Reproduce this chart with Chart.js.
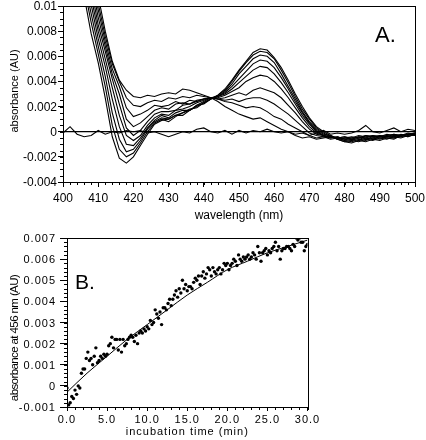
<!DOCTYPE html>
<html>
<head>
<meta charset="utf-8">
<script src="https://cdn.jsdelivr.net/npm/chart.js@4/dist/chart.umd.min.js"></script>
<style>
  html, body { margin: 0; padding: 0; background: #fff; }
  canvas, .overlay { position: absolute; left: 0; }
  .overlay { width: 426px; pointer-events: none; color: #000; }
  #chartA, #textA { top: 0; height: 230px; }
  #chartB, #textB { top: 230px; height: 210px; }
</style>
</head>
<body>
<canvas id="chartA" width="426" height="230"></canvas>
<canvas id="chartB" width="426" height="210"></canvas>
<div class="overlay" id="textA"></div>
<div class="overlay" id="textB"></div>
<script>
// ---- panel A: difference spectra ----
const wavelengths = [400, 402, 404, 406, 408, 410, 412, 414, 416, 418, 420, 422, 424, 426, 428, 430, 432, 434, 436, 438,
  440, 442, 444, 446, 448, 450, 452, 454, 456, 458, 460, 462, 464, 466, 468, 470, 472, 474, 476, 478,
  480, 482, 484, 486, 488, 490, 492, 494, 496, 498, 500];

const spec0 = [-.0001, .0004, -.0002, -.0004, -.0003, .0001, -.0002, .0000, -.0001, .0001, .0000, .0001, -.0001, .0000, -.0002, -.0004, -.0002, .0000, -.0001, .0002,
  .0003, .0000, -.0001, .0001, -.0002, .0001, -.0001, .0001, .0000, .0002, .0000, -.0001, .0000, -.0002, -.0001, -.0003, -.0001, .0001, -.0002, -.0001,
  -.0002, -.0001, .0001, .0005, .0000, -.0001, .0001, .0003, .0000, .0002, .0001];
const spec1 = [.036, .027, .022, .018, .014, .0108, .0080, .0056, .0041, .0033, .0028, .0027, .0029, .0028, .0030, .0031, .0030, .0034, .0033, .0031,
  .0029, .0027, .0024, .0020, .0017, .0014, .0012, .0010, .0011, .0008, .0005, .0002, .0000, -.0003, -.0005, -.0004, -.0006, -.0005, -.0004, -.0006,
  -.0005, -.0004, -.0005, -.0003, -.0004, -.0003, -.0004, -.0002, -.0003, -.0002, -.0001];
const spec2 = [.035, .026, .021, .017, .0133, .0102, .0076, .0054, .0040, .0027, .0021, .0020, .0023, .0025, .0024, .0027, .0026, .0028, .0027, .0029,
  .0028, .0027, .0026, .0024, .0023, .0021, .0019, .0020, .0019, .0016, .0012, .0010, .0006, .0003, .0000, -.0003, -.0005, -.0004, -.0006, -.0005,
  -.0004, -.0006, -.0004, -.0005, -.0003, -.0004, -.0003, -.0002, -.0003, -.0002, -.0001];
const spec3 = [.034, .025, .020, .016, .0127, .0097, .0072, .0050, .0036, .0019, .0012, .0014, .0017, .0021, .0020, .0021, .0024, .0022, .0025, .0024,
  .0026, .0027, .0026, .0025, .0026, .0024, .0026, .0027, .0027, .0025, .0022, .0018, .0014, .0009, .0004, -.0001, -.0003, -.0004, -.0003, -.0005,
  -.0004, -.0005, -.0003, -.0004, -.0003, -.0004, -.0002, -.0003, -.0003, -.0001, -.0002];
const spec4 = [.032, .024, .019, .015, .0120, .0091, .0068, .0046, .0030, .0010, .0004, .0007, .0012, .0017, .0019, .0018, .0022, .0023, .0022, .0025,
  .0026, .0027, .0026, .0027, .0029, .0031, .0029, .0033, .0035, .0033, .0031, .0027, .0021, .0015, .0008, .0002, -.0002, -.0003, -.0005, -.0004,
  -.0006, -.0005, -.0005, -.0003, -.0004, -.0004, -.0003, -.0004, -.0003, -.0002, -.0002];
const spec5 = [.031, .023, .0185, .0145, .0114, .0085, .0064, .0042, .0022, .0003, -.0003, .0001, .0008, .0014, .0016, .0016, .0017, .0021, .0022, .0024,
  .0026, .0027, .0027, .0029, .0032, .0035, .0040, .0043, .0045, .0044, .0040, .0034, .0027, .0019, .0011, .0004, -.0001, -.0003, -.0004, -.0006,
  -.0005, -.0006, -.0004, -.0005, -.0005, -.0003, -.0004, -.0004, -.0002, -.0003, -.0001];
const spec6 = [.030, .022, .0175, .014, .0107, .0080, .0058, .0035, .0013, -.0003, -.0007, -.0003, .0005, .0011, .0014, .0013, .0017, .0018, .0020, .0023,
  .0025, .0027, .0028, .0030, .0034, .0039, .0044, .0049, .0052, .0051, .0046, .0039, .0031, .0022, .0013, .0006, .0000, -.0003, -.0005, -.0004,
  -.0006, -.0007, -.0005, -.0006, -.0004, -.0005, -.0004, -.0003, -.0004, -.0002, -.0003];
const spec7 = [.028, .021, .017, .013, .0101, .0074, .0052, .0026, .0004, -.0010, -.0011, -.0005, .0003, .0009, .0013, .0011, .0015, .0017, .0017, .0021,
  .0024, .0027, .0028, .0031, .0036, .0042, .0048, .0054, .0057, .0056, .0051, .0043, .0034, .0024, .0015, .0007, .0001, -.0003, -.0004, -.0005,
  -.0007, -.0006, -.0007, -.0005, -.0006, -.0004, -.0005, -.0005, -.0003, -.0004, -.0002];
const spec8 = [.027, .0205, .016, .012, .0094, .0068, .0044, .0015, -.0006, -.0016, -.0014, -.0007, .0002, .0008, .0011, .0010, .0013, .0013, .0017, .0020,
  .0023, .0026, .0028, .0032, .0038, .0046, .0052, .0058, .0061, .0060, .0055, .0046, .0036, .0026, .0016, .0008, .0002, -.0002, -.0003, -.0006,
  -.0008, -.0007, -.0008, -.0006, -.0007, -.0005, -.0006, -.0004, -.0005, -.0003, -.0002];
const spec9 = [.026, .0195, .0152, .0115, .0087, .0062, .0036, .0005, -.0014, -.0020, -.0017, -.0009, .0000, .0007, .0010, .0008, .0012, .0015, .0017, .0021,
  .0022, .0026, .0029, .0033, .0040, .0048, .0055, .0061, .0064, .0063, .0058, .0049, .0039, .0028, .0018, .0010, .0003, -.0001, -.0004, -.0005,
  -.0007, -.0008, -.0006, -.0007, -.0005, -.0006, -.0004, -.0005, -.0004, -.0002, -.0003];
const spec10 = [.024, .018, .0145, .0108, .0078, .0055, .0027, -.0004, -.0021, -.0025, -.0020, -.0011, -.0002, .0006, .0009, .0010, .0013, .0015, .0018, .0019,
  .0023, .0026, .0029, .0034, .0041, .0049, .0056, .0063, .0066, .0065, .0059, .0051, .0041, .0030, .0020, .0011, .0004, .0000, -.0003, -.0006,
  -.0008, -.0009, -.0007, -.0008, -.0006, -.0007, -.0005, -.0006, -.0003, -.0004, -.0002];

const zeroLineX = [400, 500];
const zeroLineY = [0, 0];

const aXTicks = [400, 410, 420, 430, 440, 450, 460, 470, 480, 490, 500];
const aYTicks = [-0.004, -0.002, 0, 0.002, 0.004, 0.006, 0.008, 0.01];

// ---- panel B: absorbance at 456 nm vs time ----
const times = [0, .2, .4, .6, .8, 1, 1.2, 1.4, 1.6, 1.8,
  2, 2.2, 2.4, 2.6, 2.8, 3, 3.2, 3.4, 3.6, 3.8,
  4, 4.2, 4.4, 4.6, 4.8, 5, 5.2, 5.4, 5.6, 5.8,
  6, 6.2, 6.4, 6.6, 6.8, 7, 7.2, 7.4, 7.6, 7.8,
  8, 8.2, 8.4, 8.6, 8.8, 9, 9.2, 9.4, 9.6, 9.8,
  10, 10.2, 10.4, 10.6, 10.8, 11, 11.2, 11.4, 11.6, 11.8,
  12, 12.2, 12.4, 12.6, 12.8, 13, 13.2, 13.4, 13.6, 13.8,
  14, 14.2, 14.4, 14.6, 14.8, 15, 15.2, 15.4, 15.6, 15.8,
  16, 16.2, 16.4, 16.6, 16.8, 17, 17.2, 17.4, 17.6, 17.8,
  18, 18.2, 18.4, 18.6, 18.8, 19, 19.2, 19.4, 19.6, 19.8,
  20, 20.2, 20.4, 20.6, 20.8, 21, 21.2, 21.4, 21.6, 21.8,
  22, 22.2, 22.4, 22.6, 22.8, 23, 23.2, 23.4, 23.6, 23.8,
  24, 24.2, 24.4, 24.6, 24.8, 25, 25.2, 25.4, 25.6, 25.8,
  26, 26.2, 26.4, 26.6, 26.8, 27, 27.2, 27.4, 27.6, 27.8,
  28, 28.2, 28.4, 28.6, 28.8, 29, 29.2, 29.4, 29.6, 29.8,
  30];
const absorb456 = [-.0001, -.0009, -.0008, -.0005, -.0006, -.0002, -.0004, .0000, -.0001, .0006,
  .0008, .0008, .0013, .0016, .0012, .0013, .0010, .0014, .0018, .0011,
  .0012, .0014, .0013, .0015, .0014, .0015, .0019, .0020, .0023, .0018,
  .0022, .0022, .0017, .0022, .0016, .0022, .0019, .0020, .0022, .0023,
  .0024, .0023, .0021, .0024, .0020, .0025, .0026, .0025, .0027, .0026,
  .0028, .0027, .0031, .0029, .0030, .0036, .0034, .0032, .0035, .0029,
  .0037, .0037, .0036, .0039, .0041, .0038, .0041, .0043, .0045, .0042,
  .0046, .0044, .0050, .0046, .0048, .0045, .0047, .0047, .0046, .0049,
  .0051, .0050, .0052, .0048, .0052, .0054, .0051, .0053, .0056, .0055,
  .0052, .0056, .0054, .0053, .0055, .0056, .0053, .0055, .0058, .0057,
  .0058, .0055, .0057, .0058, .0060, .0059, .0057, .0062, .0060, .0059,
  .0061, .0060, .0061, .0062, .0060, .0061, .0063, .0062, .0060, .0066,
  .0063, .0059, .0063, .0064, .0065, .0062, .0064, .0063, .0065, .0066,
  .0068, .0064, .0066, .0060, .0064, .0065, .0065, .0066, .0066, .0065,
  .0064, .0067, .0066, .0070, .0069, .0070, .0068, .0068, .0064, .0066,
  .0067];

const fitTimes = [0, 2.5, 5, 7.5, 10, 12.5, 15, 17.5, 20, 22.5, 25, 27.5, 30];
const fitValues = [-.0003, .0006, .0014, .0022, .0029, .0036, .0043, .0049, .0055, .0059, .0063, .0066, .0069];

const bXTicks = [0, 5, 10, 15, 20, 25, 30];
const bYTicks = [-0.001, 0, 0.001, 0.002, 0.003, 0.004, 0.005, 0.006, 0.007];

const sansCss = '"Liberation Sans", Arial, sans-serif';

// frame round the plot area
const boxPlugin = {
  id: 'box',
  afterDatasetsDraw(chart) {
    const ctx = chart.ctx, a = chart.chartArea;
    ctx.save();
    ctx.strokeStyle = '#000';
    ctx.lineWidth = 1;
    ctx.strokeRect(Math.round(a.left) + 0.5, Math.round(a.top) + 0.5,
      Math.round(a.right - a.left), Math.round(a.bottom - a.top));
    ctx.restore();
  }
};

// short ticks between the labelled ones
const minorTicksPlugin = {
  id: 'minorTicks',
  afterDraw(chart, args, opts) {
    const ctx = chart.ctx;
    ctx.save();
    ctx.strokeStyle = '#000';
    ctx.lineWidth = 1;
    ['x', 'y'].forEach(function (id) {
      const o = opts[id];
      if (!o) return;
      const s = chart.scales[id];
      const n = Math.round((s.max - s.min) / o.step);
      for (let i = 0; i <= n; i++) {
        const p = Math.round(s.getPixelForValue(s.min + i * o.step)) + 0.5;
        ctx.beginPath();
        if (id === 'x') {
          ctx.moveTo(p, s.top);
          ctx.lineTo(p, s.top + o.len);
        } else {
          ctx.moveTo(s.right, p);
          ctx.lineTo(s.right - o.len, p);
        }
        ctx.stroke();
      }
    });
    ctx.restore();
  }
};

// tick labels, titles and panel letter as html text, placed from the chart's scales
function textPlugin(cfg) {
  return {
    id: 'htmlText',
    afterDraw(chart) {
      const box = document.getElementById(cfg.overlay);
      box.innerHTML = '';
      function put(text, x, y, css) {
        const s = document.createElement('span');
        s.textContent = text;
        s.style.cssText = 'position:absolute;white-space:nowrap;left:' + x + 'px;top:' + y + 'px;' + css;
        box.appendChild(s);
      }
      const xs = chart.scales.x, ys = chart.scales.y, a = chart.chartArea;
      cfg.xTicks.forEach(function (v) {
        put(cfg.xLabel(v), xs.getPixelForValue(v), xs.top + cfg.xGap, cfg.tickCss + 'transform:translateX(-50%);');
      });
      cfg.yTicks.forEach(function (v) {
        put(cfg.yLabel(v), ys.right - cfg.yGap, ys.getPixelForValue(v), cfg.tickCss + 'transform:translate(-100%,-50%);');
      });
      put(cfg.xTitle, (a.left + a.right) / 2, cfg.xTitleY, cfg.xTitleCss + 'transform:translate(-50%,-50%);');
      put(cfg.yTitle, cfg.yTitleX, cfg.yTitleY, cfg.yTitleCss + 'transform:translate(-50%,-50%) rotate(-90deg);');
      put(cfg.panel, cfg.panelX, cfg.panelY, cfg.panelCss);
    }
  };
}

function fixTicks(list) {
  return function (scale) {
    scale.ticks = list.map(function (v) { return { value: v }; });
  };
}

function noPad(size, dim) {
  return function (scale) {
    scale[dim] = size;
    scale.paddingTop = 0;
    scale.paddingBottom = 0;
    scale.paddingLeft = 0;
    scale.paddingRight = 0;
  };
}

// ---------- chart A ----------
const spectra = [spec0, spec1, spec2, spec3, spec4, spec5, spec6, spec7, spec8, spec9, spec10];
const datasetsA = spectra.map(function (s) {
  return {
    data: s.map(function (v, i) { return { x: wavelengths[i], y: v }; }),
    borderColor: '#000',
    borderWidth: 1.1,
    pointRadius: 0,
    tension: 0,
    fill: false,
    clip: 0
  };
});
datasetsA.push({
  data: zeroLineX.map(function (x, i) { return { x: x, y: zeroLineY[i] }; }),
  borderColor: '#000',
  borderWidth: 1.3,
  pointRadius: 0,
  fill: false,
  clip: 0
});

new Chart(document.getElementById('chartA'), {
  type: 'line',
  data: { datasets: datasetsA },
  options: {
    responsive: false,
    animation: false,
    events: [],
    layout: { padding: { left: 0, right: 11, top: 6, bottom: 0 } },
    plugins: {
      legend: { display: false },
      tooltip: { enabled: false },
      minorTicks: { x: { step: 2, len: 3 }, y: { step: 0.0005, len: 3 } }
    },
    scales: {
      x: {
        type: 'linear', min: 400, max: 500,
        afterBuildTicks: fixTicks(aXTicks),
        afterFit: noPad(48, 'height'),
        grid: { drawOnChartArea: false, drawTicks: true, tickLength: 5, tickColor: '#000' },
        border: { display: false },
        ticks: { display: false }
      },
      y: {
        type: 'linear', min: -0.004, max: 0.01,
        afterBuildTicks: fixTicks(aYTicks),
        afterFit: noPad(63, 'width'),
        grid: { drawOnChartArea: false, drawTicks: true, tickLength: 5, tickColor: '#000' },
        border: { display: false },
        ticks: { display: false }
      }
    }
  },
  plugins: [boxPlugin, minorTicksPlugin, textPlugin({
    overlay: 'textA',
    xTicks: aXTicks, yTicks: aYTicks,
    xLabel: function (v) { return String(v); },
    yLabel: function (v) { return String(+v.toFixed(3)); },
    tickCss: 'font:12px/14px ' + sansCss + ';',
    xGap: 9, yGap: 6,
    xTitle: 'wavelength (nm)', xTitleY: 215, xTitleCss: 'font:12px/14px ' + sansCss + ';',
    yTitle: 'absorbance (AU)', yTitleX: 14, yTitleY: 91, yTitleCss: 'font:11px/13px ' + sansCss + ';',
    panel: 'A.', panelX: 375, panelY: 24, panelCss: 'font:22px/22px ' + sansCss + ';'
  })]
});

// ---------- chart B ----------
new Chart(document.getElementById('chartB'), {
  type: 'scatter',
  data: {
    datasets: [{
      data: times.map(function (t, i) { return { x: t, y: absorb456[i] }; }),
      backgroundColor: '#000',
      borderWidth: 0,
      pointRadius: 1.7,
      pointStyle: 'circle'
    }, {
      data: fitTimes.map(function (t, i) { return { x: t, y: fitValues[i] }; }),
      showLine: true,
      borderColor: '#000',
      borderWidth: 1,
      pointRadius: 0,
      cubicInterpolationMode: 'monotone'
    }]
  },
  options: {
    responsive: false,
    animation: false,
    events: [],
    layout: { padding: { left: 0, right: 118.5, top: 8, bottom: 0 } },
    plugins: {
      legend: { display: false },
      tooltip: { enabled: false },
      minorTicks: { x: { step: 1, len: 3 }, y: { step: 0.0002, len: 3 } }
    },
    scales: {
      x: {
        type: 'linear', min: 0, max: 30,
        afterBuildTicks: fixTicks(bXTicks),
        afterFit: noPad(33, 'height'),
        grid: { drawOnChartArea: false, drawTicks: true, tickLength: 4, tickColor: '#000' },
        border: { display: false },
        ticks: { display: false }
      },
      y: {
        type: 'linear', min: -0.001, max: 0.007,
        afterBuildTicks: fixTicks(bYTicks),
        afterFit: noPad(67, 'width'),
        grid: { drawOnChartArea: false, drawTicks: true, tickLength: 7, tickColor: '#000' },
        border: { display: false },
        ticks: { display: false }
      }
    }
  },
  plugins: [boxPlugin, minorTicksPlugin, textPlugin({
    overlay: 'textB',
    xTicks: bXTicks, yTicks: bYTicks,
    xLabel: function (v) { return v.toFixed(1); },
    yLabel: function (v) { return String(+v.toFixed(3)); },
    tickCss: 'font:11px/13px ' + sansCss + ';letter-spacing:1px;',
    xGap: 5.5, yGap: 11,
    xTitle: 'incubation time (min)', xTitleY: 200.5, xTitleCss: 'font:11px/13px ' + sansCss + ';letter-spacing:1px;',
    yTitle: 'absorbance at 456 nm (AU)', yTitleX: 14, yTitleY: 107.5,
    yTitleCss: 'font:11.5px/13px ' + sansCss + ';letter-spacing:-0.6px;',
    panel: 'B.', panelX: 75, panelY: 40.5, panelCss: 'font:21px/21px ' + sansCss + ';'
  })]
});
</script>
</body>
</html>
